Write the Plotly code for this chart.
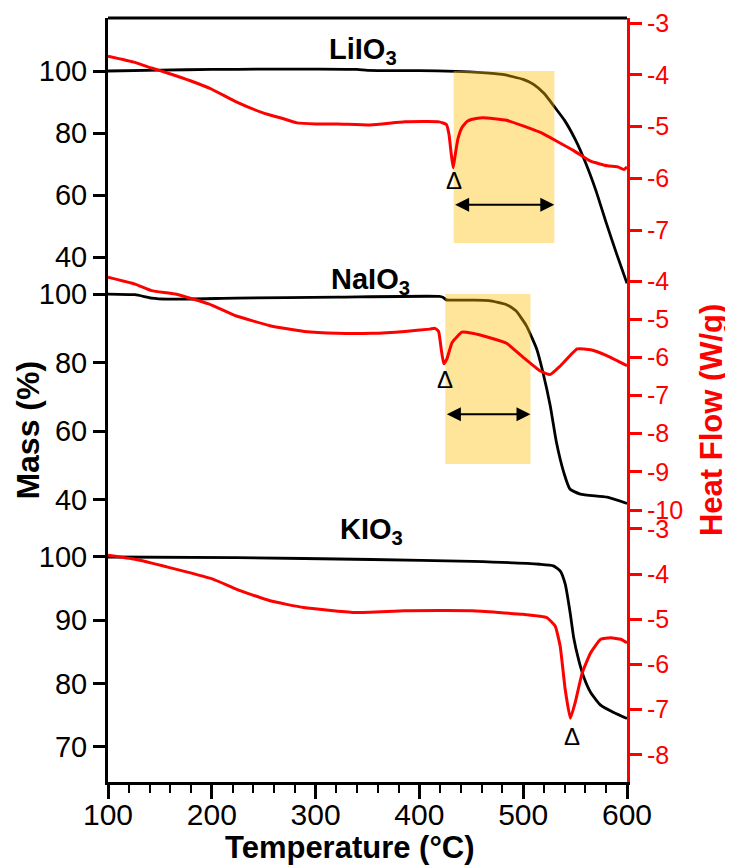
import plotly.graph_objects as go

# ---------------- data ----------------
li_T_mass = [100, 150, 200, 250, 300, 340, 350, 400, 435, 460, 480, 500, 510, 520, 530, 540, 550, 560, 570, 580, 590, 600]
li_mass = [100.0, 100.3, 100.5, 100.6, 100.6, 100.5, 100.2, 100.1, 99.9, 99.5, 98.9, 97.3, 95.7, 92.8, 88.5, 84.0, 78.0, 70.5, 61.5, 51.0, 41.0, 31.5]
li_T_heat = [100, 126, 142, 158, 180, 200, 223, 250, 269, 282, 300, 321, 353, 386, 419, 426, 428.5, 430.5, 432.5, 434.5, 437, 441, 446, 451, 461, 484, 516, 549, 565, 581, 591, 597, 600]
li_heat = [-3.64, -3.76, -3.87, -3.97, -4.12, -4.28, -4.52, -4.74, -4.85, -4.93, -4.95, -4.95, -4.97, -4.91, -4.91, -4.96, -5.15, -5.5, -5.80, -5.55, -5.25, -5.02, -4.90, -4.86, -4.83, -4.88, -5.11, -5.47, -5.67, -5.76, -5.78, -5.83, -5.78]

na_T_mass = [100, 126, 142, 158, 223, 321, 419, 423, 426, 451, 467, 484, 493, 503, 513, 519, 526, 532, 539, 545, 555, 581, 600]
na_mass = [100.0, 99.8, 98.8, 98.5, 98.8, 99.1, 99.3, 99.0, 98.3, 98.25, 98.1, 96.9, 95.1, 90.8, 84.0, 77.2, 67.5, 56.8, 48.1, 43.2, 41.7, 40.8, 39.0]
na_T_heat = [100, 126, 142, 165, 197, 223, 256, 289, 321, 354, 386, 410, 415, 418.5, 421, 423.5, 426.5, 431.5, 441, 451, 467, 484, 500, 516, 526, 536, 552, 565, 581, 600]
na_heat = [-3.90, -4.08, -4.25, -4.34, -4.60, -4.91, -5.17, -5.32, -5.37, -5.37, -5.32, -5.26, -5.24, -5.32, -5.78, -6.17, -6.04, -5.61, -5.34, -5.37, -5.48, -5.63, -6.00, -6.35, -6.45, -6.22, -5.78, -5.80, -5.96, -6.22]

k_T_mass = [100, 224, 354, 451, 516, 529, 535.6, 540.5, 545.4, 548.6, 553.5, 558.4, 565, 574.6, 587.7, 600]
k_mass = [100.0, 99.9, 99.6, 99.3, 98.85, 98.6, 97.8, 95.7, 91.0, 87.3, 83.7, 81.0, 78.6, 76.6, 75.4, 74.5]
k_T_heat = [100, 126, 158.5, 201, 223.5, 256, 288.6, 337, 386, 451, 500, 522.6, 530.8, 535.6, 540.5, 545.4, 550, 556.8, 565, 574.6, 584.4, 594, 600]
k_heat = [-3.58, -3.67, -3.85, -4.11, -4.33, -4.59, -4.74, -4.85, -4.81, -4.81, -4.89, -4.96, -5.15, -5.59, -6.56, -7.19, -6.85, -6.19, -5.74, -5.44, -5.41, -5.44, -5.52]

# temperature windows (°C) and their mass extents (%)
li_window_T = [433, 530]
li_window_mass = [44.5, 100]
na_window_T = [425, 507]
na_window_mass = [50.5, 100]

# peak markers (T, mass) and arrow heights (mass)
li_peak = [433, 64.6]
na_peak = [424.5, 75.2]
k_peak = [547, 71.6]
li_arrow_mass = 56.9
na_arrow_mass = 65.0

names = ["LiIO<sub>3</sub>", "NaIO<sub>3</sub>", "KIO<sub>3</sub>"]

mass_ticks = [[40, 60, 80, 100], [40, 60, 80, 100], [70, 80, 90, 100]]
heat_ticks = [[-7, -6, -5, -4, -3], [-10, -9, -8, -7, -6, -5, -4], [-8, -7, -6, -5, -4, -3]]

# ---------------- figure ----------------
FONT = "Liberation Sans"
fig = go.Figure()

def rect(xs, ys):
    return [xs[0], xs[1], xs[1], xs[0], xs[0]], [ys[0], ys[0], ys[1], ys[1], ys[0]]

panels = [
    (li_T_mass, li_mass, li_T_heat, li_heat, li_window_T, li_window_mass, "y", "y2"),
    (na_T_mass, na_mass, na_T_heat, na_heat, na_window_T, na_window_mass, "y3", "y4"),
    (k_T_mass, k_mass, k_T_heat, k_heat, None, None, "y5", "y6"),
]
for tm, m, th, h, wT, wm, ym, yh in panels:
    fig.add_trace(go.Scatter(x=tm, y=m, yaxis=ym, mode="lines",
                             line=dict(color="black", width=2.8, shape="spline", smoothing=0.5),
                             showlegend=False, hoverinfo="skip"))
    if wT is not None:
        rx, ry = rect(wT, wm)
        fig.add_trace(go.Scatter(x=rx, y=ry, yaxis=ym, mode="lines", fill="toself",
                                 fillcolor="rgba(255,190,0,0.4)", line=dict(width=0),
                                 showlegend=False, hoverinfo="skip"))
    fig.add_trace(go.Scatter(x=th, y=h, yaxis=yh, mode="lines",
                             line=dict(color="#ff0000", width=3, shape="spline", smoothing=0.4),
                             showlegend=False, hoverinfo="skip"))

# geometry (paper fractions)
d_top = [0.6505, 1.0]
d_mid = [0.3325, 0.6675]
d_bot = [0.0, 0.3325]

TICKF = 29
RTICKF = 25

def left_axis(domain, rng, ticks):
    return dict(domain=domain, range=rng, anchor="x", tickvals=ticks, automargin=False,
                showline=True, linecolor="black", linewidth=3,
                ticks="outside", ticklen=12, tickwidth=3, tickcolor="black",
                tickfont=dict(family=FONT, size=TICKF, color="black"),
                showgrid=False, zeroline=False)

def right_axis(over, rng, ticks):
    return dict(overlaying=over, side="right", range=rng, anchor="x", tickvals=ticks,
                ticktext=[str(t) for t in ticks], automargin=False,
                showline=True, linecolor="#ff0000", linewidth=3,
                ticks="outside", ticklen=12, tickwidth=3, tickcolor="#ff0000",
                tickfont=dict(family=FONT, size=RTICKF, color="#ff0000"),
                showgrid=False, zeroline=False)

# the page body adds an 8 px margin, so the figure is 8 px smaller and shifted
fig.update_layout(
    width=725, height=857,
    margin=dict(l=100, r=106, t=10, b=83, autoexpand=False),
    paper_bgcolor="white", plot_bgcolor="rgba(0,0,0,0)",
    font=dict(family=FONT, color="black"),
    showlegend=False,
    xaxis=dict(domain=[0, 1], range=[100, 600], anchor="y5", automargin=False,
               showline=True, linecolor="black", linewidth=3,
               ticks="outside", ticklen=14, tickwidth=3, tickcolor="black", dtick=100, tick0=100,
               minor=dict(dtick=20, tick0=100, ticks="outside", ticklen=8, tickwidth=2, tickcolor="black"),
               tickfont=dict(family=FONT, size=30, color="black"), ticklabelstandoff=-10,
               showgrid=False, zeroline=False),
    yaxis=left_axis(d_top, [30.97, 117.1], mass_ticks[0]),
    yaxis2=right_axis("y", [-8.063, -2.903], heat_ticks[0]),
    yaxis3=left_axis(d_mid, [31.84, 106.41], mass_ticks[1]),
    yaxis4=right_axis("y3", [-10.47, -3.764], heat_ticks[1]),
    yaxis5=left_axis(d_bot, [64.47, 104.58], mass_ticks[2]),
    yaxis6=right_axis("y5", [-8.6, -2.978], heat_ticks[2]),
)

# top frame line
fig.add_shape(type="line", xref="paper", yref="paper", x0=0, x1=1, y0=1, y1=1,
              line=dict(color="black", width=3))

ann = []
# sample labels
for name, tx, py in zip(names, [346, 353, 354], [0.9568, 0.6558, 0.329]):
    ann.append(dict(x=tx, y=py, xref="x", yref="paper", text="<b>" + name + "</b>",
                    xanchor="center", yanchor="middle",
                    showarrow=False, font=dict(family=FONT, size=29, color="black")))
# peak triangles
for (px, pm), yr in zip([li_peak, na_peak, k_peak], ["y", "y3", "y5"]):
    ann.append(dict(x=px, y=pm, xref="x", yref=yr, text="Δ", showarrow=False,
                    xanchor="center", yanchor="middle",
                    font=dict(family=FONT, size=24, color="black")))
# double arrows
for wT, am, yr in [(li_window_T, li_arrow_mass, "y"), (na_window_T, na_arrow_mass, "y3")]:
    ann.append(dict(x=wT[1], y=am, ax=wT[0], ay=am, xref="x", yref=yr, axref="x", ayref=yr,
                    text="", showarrow=True, arrowhead=2, arrowside="end+start",
                    arrowwidth=2, arrowsize=1.4, arrowcolor="black"))
# axis titles
ann.append(dict(x=-0.155, y=0.4607, xref="paper", yref="paper", text="<b>Mass (%)</b>",
                xanchor="center", yanchor="middle",
                textangle=-90, showarrow=False, font=dict(family=FONT, size=32, color="black")))
ann.append(dict(x=1.162, y=0.4738, xref="paper", yref="paper", text="<b>Heat Flow (W/g)</b>",
                xanchor="center", yanchor="middle",
                textangle=-90, showarrow=False, font=dict(family=FONT, size=31, color="#ff0000")))
ann.append(dict(x=0.4663, y=-0.0851, xref="paper", yref="paper", text="<b>Temperature (°C)</b>",
                xanchor="center", yanchor="middle",
                showarrow=False, font=dict(family=FONT, size=31, color="black")))
fig.update_layout(annotations=ann)

fig.write_html("out.html")
